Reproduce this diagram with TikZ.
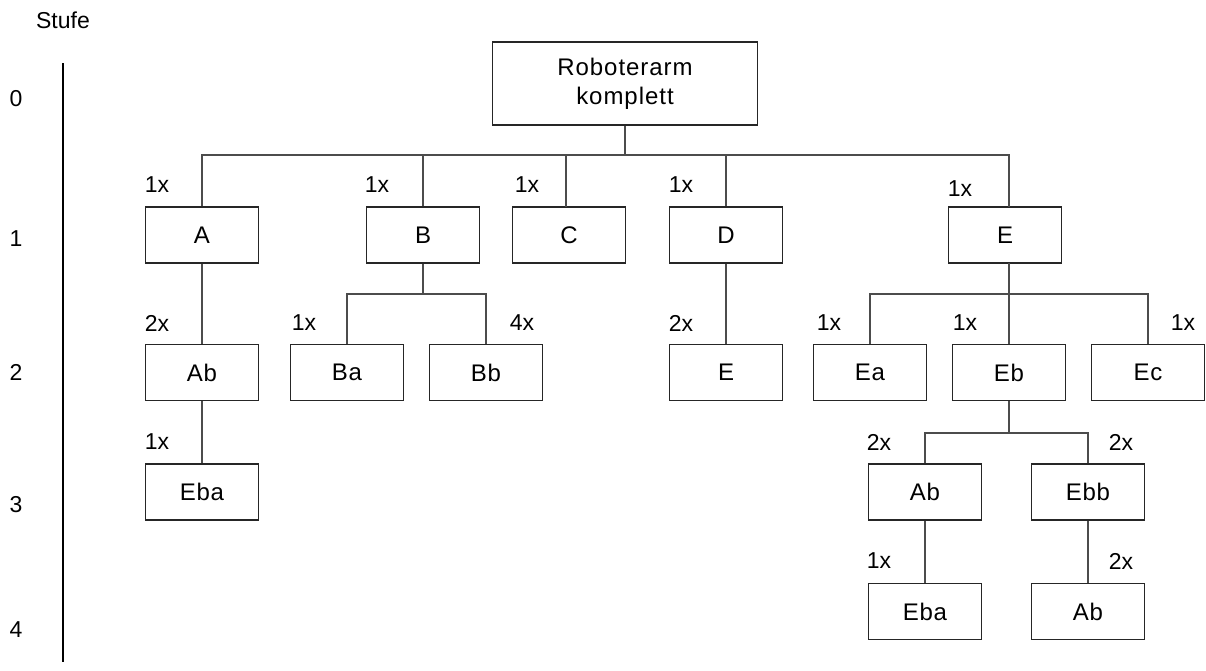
\documentclass[tikz,border=0pt]{standalone}
\usepackage{fontspec}
\setmainfont{Liberation Sans}
\begin{document}
\begin{tikzpicture}[x=1pt,y=-1pt,
  box/.style={draw=black!85, line width=1.5pt, minimum width=113pt, minimum height=56pt, inner sep=0pt,
     font=\fontsize{24}{29}\selectfont\addfontfeatures{LetterSpace=3}},
  rootbox/.style={box, minimum width=265pt, minimum height=83pt, align=center,
     font=\fontsize{24}{29}\selectfont\addfontfeatures{LetterSpace=4}},
  lbl/.style={inner sep=0pt, font=\fontsize{23}{25}\selectfont},
  conn/.style={draw=black!70, line width=1.1pt}]
\useasboundingbox (0,0) rectangle (1206,670);
% Stufe axis
\node[lbl] (stufe) at (63,20) {Stufe};
\coordinate (axtop) at (63,63);
\coordinate (axbot) at (63,662);
\draw[line width=2pt] (axtop) -- (axbot);
\node[lbl] (s0) at (16,99) {0};
\node[lbl] (s1) at (16,239) {1};
\node[lbl] (s2) at (16,372) {2};
\node[lbl] (s3) at (16,505) {3};
\node[lbl] (s4) at (16,630) {4};
% boxes
\node[rootbox] (root) at (625,83.5) {Roboterarm\\komplett};
\node[box] (A) at (202,235) {A};
\node[box] (B) at (423,235) {B};
\node[box] (C) at (569,235) {C};
\node[box] (D) at (726,235) {D};
\node[box] (E) at (1005,235) {E};
\node[box] (Ab) at (202,372.5) {Ab};
\node[box] (Ba) at (347,372.5) {Ba};
\node[box] (Bb) at (486,372.5) {Bb};
\node[box] (E2) at (726,372.5) {E};
\node[box] (Ea) at (870,372.5) {Ea};
\node[box] (Eb) at (1009,372.5) {Eb};
\node[box] (Ec) at (1148,372.5) {Ec};
\node[box] (Eba) at (202,492) {Eba};
\node[box] (Ab3) at (925,492) {Ab};
\node[box] (Ebb) at (1088,492) {Ebb};
\node[box] (Eba4) at (925,611.5) {Eba};
\node[box] (Ab4) at (1088,611.5) {Ab};
% connectors
\coordinate (b0) at (625,155);
\coordinate (eN) at (1009,207);
\draw[conn] (root.south) -- (b0);
\draw[conn] (A.north) |- (b0) -| (eN);
\draw[conn] (b0 -| B.north) -- (B.north);
\draw[conn] (b0 -| 566,0) -- (566,207);
\draw[conn] (b0 -| D.north) -- (D.north);
\draw[conn] (A) -- (Ab);
\draw[conn] (Ab) -- (Eba);
\coordinate (b1) at (423,294);
\draw[conn] (B.south) -- (b1);
\draw[conn] (Ba.north) |- (b1) -| (Bb.north);
\draw[conn] (D) -- (E2);
\coordinate (b2) at (1009,294);
\coordinate (eS) at (1009,263);
\draw[conn] (eS) -- (Eb.north);
\draw[conn] (Ea.north) |- (b2) -| (Ec.north);
\coordinate (b3) at (1009,433);
\draw[conn] (Eb.south) -- (b3);
\draw[conn] (Ab3.north) |- (b3) -| (Ebb.north);
\draw[conn] (Ab3) -- (Eba4);
\draw[conn] (Ebb) -- (Ab4);
% quantity labels
\node[lbl] (qA) at (157,185) {1x};
\node[lbl] (qB) at (377,185) {1x};
\node[lbl] (qC) at (527,185) {1x};
\node[lbl] (qD) at (681,185) {1x};
\node[lbl] (qE) at (960,189) {1x};
\node[lbl] (qAb) at (157,323) {2x};
\node[lbl] (qBa) at (304,323) {1x};
\node[lbl] (qBb) at (522,323) {4x};
\node[lbl] (qE2) at (681,323) {2x};
\node[lbl] (qEa) at (829,323) {1x};
\node[lbl] (qEb) at (965,323) {1x};
\node[lbl] (qEc) at (1183,323) {1x};
\node[lbl] (qEba) at (157,442) {1x};
\node[lbl] (qAb3) at (879,442) {2x};
\node[lbl] (qEbb) at (1121,442) {2x};
\node[lbl] (qEba4) at (879,561) {1x};
\node[lbl] (qAb4) at (1121,561) {2x};
\end{tikzpicture}
\end{document}
